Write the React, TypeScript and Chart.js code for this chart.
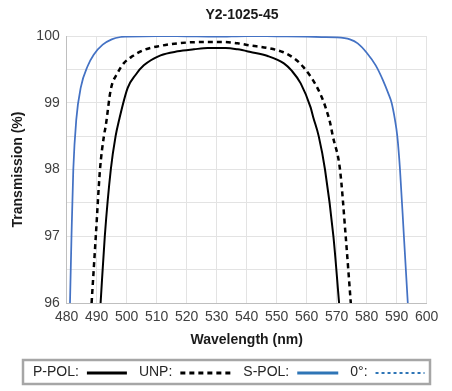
import React, { useEffect, useRef } from "react";
import { Chart, registerables } from "chart.js";

Chart.register(...registerables);

const CHART_TITLE = "Y2-1025-45";
const X_TITLE = "Wavelength (nm)";
const Y_TITLE = "Transmission (%)";
const X_MIN = 480;
const X_MAX = 600;
const Y_MIN = 96;
const Y_MAX = 100;

// S-POL (blue)
const sPolWl = [481.1, 481.6, 482.2, 483.2, 484.7, 487, 489, 492, 495, 498, 500, 510, 520, 530, 540, 550, 560, 565, 570, 574.4, 577, 580, 583, 585.4, 587.2, 588.3, 589.4, 590.2, 591.1, 592.4, 593.7];
const sPolT = [96, 97, 98, 98.75, 99.23, 99.55, 99.72, 99.87, 99.95, 99.985, 99.99, 100, 99.995, 99.99, 100, 99.995, 99.99, 99.985, 99.98, 99.95, 99.89, 99.75, 99.56, 99.34, 99.14, 99.0, 98.75, 98.5, 98, 97, 96];

// P-POL (black solid)
const pPolWl = [491.3, 492.7, 494.7, 496.3, 497.4, 500.3, 503, 505.7, 511.3, 517, 522.4, 527, 533, 537, 541.3, 547, 552.4, 555, 558, 561.3, 562.2, 564, 566.1, 568.9, 570.8];
const pPolT = [96, 97, 98, 98.5, 98.73, 99.22, 99.42, 99.56, 99.71, 99.77, 99.8, 99.82, 99.82, 99.8, 99.76, 99.7, 99.59, 99.48, 99.29, 98.93, 98.78, 98.5, 98, 97, 96];

// UNP (black dashed)
const unpWl = [488.3, 489.7, 491.1, 492.4, 493, 494.7, 497, 499, 502, 505.7, 511, 517, 525, 532, 537, 541, 547, 552, 556, 559, 561.5, 563.6, 565.5, 567, 567.8, 568.7, 571.1, 573, 574.7];
const unpT = [96, 97, 98, 98.5, 98.65, 99.2, 99.45, 99.59, 99.7, 99.79, 99.85, 99.89, 99.91, 99.91, 99.89, 99.86, 99.82, 99.76, 99.66, 99.53, 99.38, 99.22, 99.03, 98.83, 98.7, 98.5, 98, 97, 96];

// 0° (blue dotted) – no visible data in the reference
const zeroWl: number[] = [];
const zeroT: number[] = [];

const SERIES_LABELS = ["P-POL:", "UNP:", "S-POL:", "0°:"];

const FONT = "'Liberation Sans', Arial, sans-serif";

const toPoints = (xs: number[], ys: number[]) => xs.map((x, i) => ({ x, y: ys[i] }));

const decorPlugin = {
  id: "decor",
  afterDraw(chart: any) {
    const ctx = chart.ctx as CanvasRenderingContext2D;
    ctx.save();
    // chart title
    ctx.font = `bold 14px ${FONT}`;
    ctx.fillStyle = "#1a1a1a";
    ctx.textAlign = "center";
    ctx.textBaseline = "middle";
    ctx.fillText(CHART_TITLE, 242, 15);

    // legend box
    const boxL = 23, boxR = 430, boxT = 360, boxB = 384;
    ctx.strokeStyle = "#a6a6a6";
    ctx.lineWidth = 2.5;
    ctx.strokeRect(boxL, boxT, boxR - boxL, boxB - boxT);
    ctx.font = `14px ${FONT}`;
    ctx.fillStyle = "#262626";
    ctx.textAlign = "left";
    ctx.textBaseline = "middle";
    const cy = (boxT + boxB) / 2;
    const samples = [
      { color: "#000000", dash: [] as number[], width: 3, len: 40 },
      { color: "#000000", dash: [5, 4], width: 3, len: 51 },
      { color: "#2E75B6", dash: [] as number[], width: 3, len: 41 },
      { color: "#2E75B6", dash: [3, 3], width: 2, len: 49 },
    ];
    let x = 33;
    SERIES_LABELS.forEach((label, i) => {
      ctx.fillText(label, x, cy);
      x += ctx.measureText(label).width + 8;
      const s = samples[i];
      ctx.beginPath();
      ctx.setLineDash(s.dash);
      ctx.strokeStyle = s.color;
      ctx.lineWidth = s.width;
      ctx.moveTo(x, cy + 1);
      ctx.lineTo(x + s.len, cy + 1);
      ctx.stroke();
      ctx.setLineDash([]);
      x += s.len + 12;
    });
    ctx.restore();
  },
};

export default function App() {
  const ref = useRef<HTMLCanvasElement | null>(null);
  useEffect(() => {
    if (!ref.current) return;
    const chart = new Chart(ref.current, {
      type: "line",
      data: {
        datasets: [
          {
            label: SERIES_LABELS[0],
            data: toPoints(pPolWl, pPolT),
            borderColor: "#000000",
            borderWidth: 2,
            pointRadius: 0,
            cubicInterpolationMode: "monotone",
          },
          {
            label: SERIES_LABELS[1],
            data: toPoints(unpWl, unpT),
            borderColor: "#000000",
            borderWidth: 2.5,
            borderDash: [5, 4],
            pointRadius: 0,
            cubicInterpolationMode: "monotone",
          },
          {
            label: SERIES_LABELS[2],
            data: toPoints(sPolWl, sPolT),
            borderColor: "#4472C4",
            borderWidth: 1.75,
            pointRadius: 0,
            cubicInterpolationMode: "monotone",
          },
          {
            label: SERIES_LABELS[3],
            data: toPoints(zeroWl, zeroT),
            borderColor: "#2E75B6",
            borderWidth: 1.5,
            borderDash: [3, 3],
            pointRadius: 0,
          },
        ],
      },
      options: {
        animation: false,
        responsive: false,
        layout: { padding: { left: 0, right: 25.3, top: 36, bottom: 40 } },
        plugins: {
          legend: { display: false },
          tooltip: { enabled: false },
          title: { display: false },
        },
        scales: {
          x: {
            type: "linear",
            min: X_MIN,
            max: X_MAX,
            afterFit: (s: any) => { s.height = 48; },
            ticks: {
              stepSize: 10,
              padding: 6,
              color: "#404040",
              font: { family: FONT, size: 14 },
              maxRotation: 0,
              autoSkip: false,
            },
            grid: { color: "#e3e3e3", drawTicks: false },
            border: { color: "#bfbfbf" },
            title: {
              display: true,
              text: X_TITLE,
              color: "#1a1a1a",
              font: { family: FONT, size: 14, weight: "bold" },
              padding: { top: 0, bottom: 2.6 },
            },
          },
          y: {
            min: Y_MIN,
            max: Y_MAX,
            afterFit: (s: any) => { s.width = 66.7; },
            ticks: {
              stepSize: 0.5,
              padding: 7,
              color: "#404040",
              font: { family: FONT, size: 14 },
              callback: (v: any) => (Number.isInteger(v) ? String(v) : ""),
              autoSkip: false,
            },
            grid: { color: "#e3e3e3", drawTicks: false },
            border: { color: "#bfbfbf" },
            title: {
              display: true,
              text: Y_TITLE,
              color: "#1a1a1a",
              font: { family: FONT, size: 14, weight: "bold" },
              padding: { top: 10, bottom: 0 },
            },
          },
        },
      },
      plugins: [decorPlugin],
    });
    return () => chart.destroy();
  }, []);
  return (
    <div style={{ position: "absolute", left: 0, top: 0, width: 452, height: 391, background: "#fff" }}>
      <canvas ref={ref} width={452} height={391} style={{ display: "block" }} />
    </div>
  );
}
